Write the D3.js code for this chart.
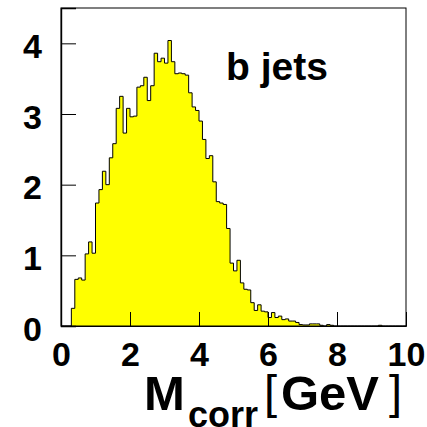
<!DOCTYPE html>
<html>
<head>
<meta charset="utf-8">
<script src="https://cdn.jsdelivr.net/npm/d3@7"></script>
<style>
  html, body { margin: 0; padding: 0; background: #fff; }
  svg { display: block; }
  text { font-family: "Liberation Sans", Arial, Helvetica, sans-serif; }
</style>
</head>
<body>
<svg id="chart" width="427" height="427"></svg>
<script>
// Corrected vertex mass distribution for b jets, 100 bins of 0.1 GeV from 0 to 10 GeV
const binLow = 0;
const binWidth = 0.1;
const counts = [
  0, 0, 0, 0.25, 0.66, 0.68, 0.65, 1.02, 1.19, 1.03,
  1.74, 1.93, 2.19, 2.00, 2.38, 2.58, 3.08, 3.25, 2.73, 3.08,
  2.96, 2.97, 3.38, 3.40, 3.52, 3.19, 3.40, 3.86, 3.74, 3.79,
  3.72, 4.04, 3.74, 3.57, 3.58, 3.57, 3.55, 3.30, 3.10, 3.05,
  2.90, 2.64, 2.37, 2.41, 2.04, 1.76, 1.74, 1.72, 1.38, 0.89,
  0.78, 0.93, 0.61, 0.52, 0.51, 0.33, 0.22, 0.30, 0.21, 0.20,
  0.12, 0.19, 0.12, 0.14, 0.09, 0.10, 0.07, 0.07, 0.05, 0.02,
  0.015, 0.015, 0.03, 0.03, 0.03, 0.01, 0, 0.02, 0.01, 0,
  0, 0, 0, 0, 0, 0, 0, 0, 0, 0,
  0, 0, 0.01, 0, 0, 0, 0, 0, 0, 0
];
const xDomain = [0, 10];
const yDomain = [0, 4.5];
const xMajorTicks = [0, 2, 4, 6, 8, 10];
const yMajorTicks = [0, 1, 2, 3, 4];
const xMinorTicks = d3.range(0, 10.01, 0.5);
const yMinorTicks = d3.range(0, 4.41, 0.2);
const label = "b jets";

const frame = { left: 61, right: 406, top: 8, bottom: 326 };
const svg = d3.select("#chart");

const x = d3.scaleLinear().domain(xDomain).range([frame.left, frame.right]);
const y = d3.scaleLinear().domain(yDomain).range([frame.bottom, frame.top]);

// step outline: one point per bin low edge plus the closing upper edge
const pts = counts.map((c, i) => [binLow + i * binWidth, c]);
pts.push([binLow + counts.length * binWidth, counts[counts.length - 1]]);

const area = d3.area()
  .x(d => x(d[0]))
  .y0(y(0))
  .y1(d => y(d[1]))
  .curve(d3.curveStepAfter);
const line = d3.line()
  .x(d => x(d[0]))
  .y(d => y(d[1]))
  .curve(d3.curveStepAfter);

svg.append("path").attr("d", area(pts)).attr("fill", "#ffff00");
svg.append("path").attr("d", line(pts))
  .attr("fill", "none").attr("stroke", "#000").attr("stroke-width", 1);

// frame box
svg.append("rect")
  .attr("x", frame.left).attr("y", frame.top)
  .attr("width", frame.right - frame.left)
  .attr("height", frame.bottom - frame.top)
  .attr("fill", "none").attr("stroke", "#000").attr("stroke-width", 1);

// x axis: ticks pointing into the frame
const gx = svg.append("g").attr("transform", `translate(0,${frame.bottom})`);
gx.call(d3.axisBottom(x).tickValues(xMinorTicks).tickSize(-7).tickFormat(""));
gx.call(d3.axisBottom(x).tickValues(xMajorTicks).tickSize(-14).tickPadding(16)
  .tickFormat(d3.format("d")));
gx.selectAll(".domain").attr("stroke", "#000");
gx.selectAll(".tick line").attr("stroke", "#000");
gx.selectAll(".tick text")
  .attr("font-size", 34).attr("font-weight", "bold").attr("fill", "#000");

// y axis
const gy = svg.append("g").attr("transform", `translate(${frame.left},0)`);
gy.call(d3.axisLeft(y).tickValues(yMinorTicks).tickSize(-7).tickFormat(""));
gy.call(d3.axisLeft(y).tickValues(yMajorTicks).tickSize(-15).tickPadding(19)
  .tickFormat(d3.format("d")));
gy.selectAll(".domain").attr("stroke", "#000").attr("stroke-width", 1.4);
gy.selectAll(".tick line").attr("stroke", "#000");
gy.selectAll(".tick text")
  .attr("font-size", 34).attr("font-weight", "bold").attr("fill", "#000")
  .attr("dy", "0.42em");

// axis title: M_corr [GeV]
const titleParts = [
  { t: "M",    x: 144, y: 410, size: 49, weight: "bold",   anchor: "start" },
  { t: "corr", x: 188, y: 427, size: 36, weight: "bold",   anchor: "start" },
  { t: "[",    x: 264, y: 408, size: 47, weight: "normal", anchor: "start" },
  { t: "GeV",  x: 281, y: 410, size: 49, weight: "bold",   anchor: "start" },
  { t: "]",    x: 402, y: 408, size: 47, weight: "normal", anchor: "end" }
];
svg.append("g").selectAll("text").data(titleParts).join("text")
  .attr("x", d => d.x).attr("y", d => d.y)
  .attr("font-size", d => d.size).attr("font-weight", d => d.weight)
  .attr("text-anchor", d => d.anchor).attr("fill", "#000")
  .text(d => d.t);

// in-frame label
svg.append("text")
  .attr("x", 226).attr("y", 80)
  .attr("font-size", 39).attr("font-weight", "bold").attr("fill", "#000")
  .text(label);
</script>
</body>
</html>
